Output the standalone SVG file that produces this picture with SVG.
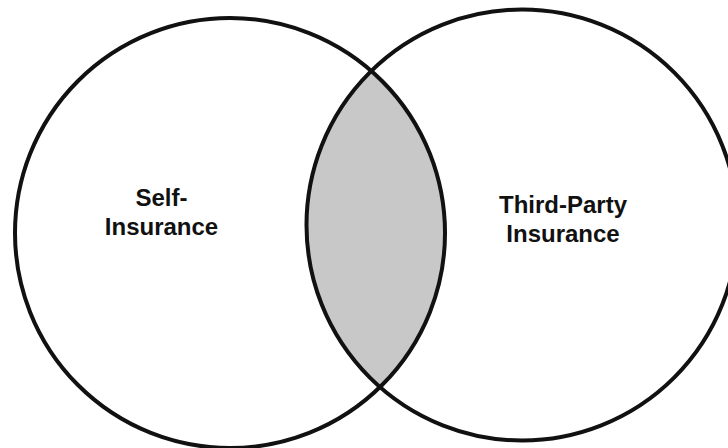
<svg xmlns="http://www.w3.org/2000/svg" width="728" height="448" viewBox="0 0 728 448">
  <style>
    .ring { fill: none; stroke: #111111; stroke-width: 4; }
    .label { font-family: "Liberation Sans", Arial, sans-serif; font-weight: bold; font-size: 24px; fill: #111111; text-anchor: middle; }
  </style>
  <defs>
    <clipPath id="clipLeft">
      <circle cx="230" cy="233" r="215"/>
    </clipPath>
  </defs>
  <rect x="0" y="0" width="728" height="448" fill="#ffffff"/>
  <g id="overlap">
    <circle cx="522" cy="225" r="215.5" fill="#c8c8c8" clip-path="url(#clipLeft)"/>
  </g>
  <g id="self-insurance">
    <circle class="ring" cx="230" cy="233" r="215"/>
    <text class="label" x="161.5" y="206">Self-</text>
    <text class="label" x="161.5" y="235">Insurance</text>
  </g>
  <g id="third-party-insurance">
    <circle class="ring" cx="522" cy="225" r="215.5"/>
    <text class="label" x="563" y="213">Third-Party</text>
    <text class="label" x="563" y="242">Insurance</text>
  </g>
  <g id="connectors"/>
</svg>
